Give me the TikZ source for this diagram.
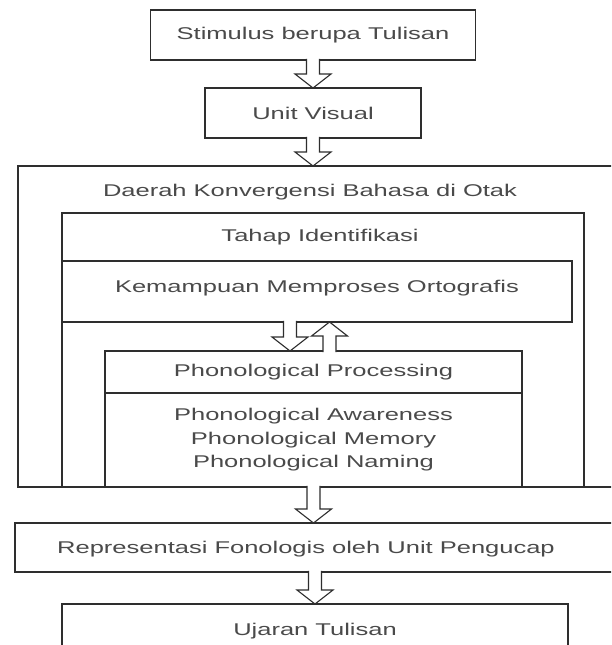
\documentclass[tikz,border=0pt]{standalone}
\usepackage{fontspec}
\setmainfont{Liberation Sans}[FakeStretch=1.5]
\usetikzlibrary{positioning, calc}
\definecolor{scanInk}{HTML}{2E2E2E}
\definecolor{scanText}{HTML}{4A4A4A}
\tikzstyle{blockbox} =[draw=scanInk, line width=1.1pt, fill=white, inner sep=0pt, outer sep=0pt, align=center]
\tikzset{hollow/.style={draw=scanInk, line width=1.1pt, fill=white, to path={
  let \p1=(\tikztostart), \p2=(\tikztotarget), \n1={ifthenelse(\y2>\y1,1,-1)} in
  ({\x1-6.5pt},{\y1-\n1*1.2pt}) -- ({\x1-6.5pt},{\y2-\n1*14pt}) -- ({\x1-18pt},{\y2-\n1*14pt})
  -- (\x1,\y2) -- ({\x1+18pt},{\y2-\n1*14pt}) -- ({\x1+6.5pt},{\y2-\n1*14pt}) -- ({\x1+6.5pt},{\y1-\n1*1.2pt})}}}

\begin{document}
\begin{tikzpicture}[x=1pt, y=-1pt, text=scanText, font=\fontsize{17}{23.5}\selectfont]
\fill[white] (0,0) rectangle (611,645);
\clip (0,0) rectangle (611,645);

\node (stimulus) [blockbox, minimum width=325pt, minimum height=50pt] at (313,35) {Stimulus berupa Tulisan};
\node (visual) [blockbox, minimum width=216pt, minimum height=50pt, below=28pt of stimulus] {Unit Visual};

\node (konvergensi) [blockbox, anchor=north west, minimum width=640pt, minimum height=321pt] at (18,166) {};
\node (konvergensiTitle) at (310,192) {Daerah Konvergensi Bahasa di Otak};

\node (identifikasi) [blockbox, anchor=north west, minimum width=522pt, minimum height=274pt] at (62,213) {};
\node (identifikasiTitle) at (320,237) {Tahap Identifikasi};

\node (ortografis) [blockbox, anchor=north west, minimum width=510pt, minimum height=61pt, text depth=10pt] at (62,261) {Kemampuan Memproses Ortografis};

\node (phonoProc) [blockbox, anchor=north west, minimum width=417pt, minimum height=42pt] at (105,351) {Phonological Processing};
\node (phonoSub) [blockbox, minimum width=417pt, minimum height=94pt, below=0pt of phonoProc] {Phonological Awareness\\Phonological Memory\\Phonological Naming};

\node (representasi) [blockbox, anchor=north west, minimum width=640pt, minimum height=49pt] at (15,523) {};
\node (representasiText) at (306,549) {Representasi Fonologis oleh Unit Pengucap};

\node (ujaran) [blockbox, anchor=north west, minimum width=506pt, minimum height=54pt] at (62,604) {Ujaran Tulisan};

%arrows
\coordinate (downStart) at ($(ortografis.south)+(-27,0)$);
\coordinate (upStart) at ($(phonoProc.north)+(16,0)$);

\draw[hollow] (stimulus.south) to (visual.north);
\draw[hollow] (visual.south) to (visual.south |- konvergensi.north);
\draw[hollow] (downStart) to (downStart |- phonoProc.north);
\draw[hollow] (upStart) to (upStart |- ortografis.south);
\draw[hollow] (phonoSub.south) to (phonoSub.south |- representasi.north);
\draw[hollow] (ujaran.north |- representasi.south) to (ujaran.north);
\end{tikzpicture}
\end{document}
